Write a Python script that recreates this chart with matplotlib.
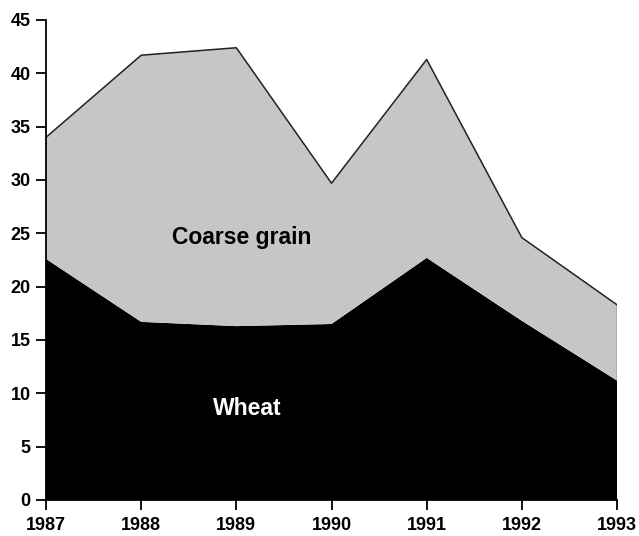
import matplotlib
matplotlib.use("Agg")
from matplotlib import pyplot as plt

plt.rcParams['font.family'] = ['Liberation Sans', 'DejaVu Sans']

years = [1987, 1988, 1989, 1990, 1991, 1992, 1993]
wheat = [22.6, 16.7, 16.3, 16.5, 22.7, 16.8, 11.2]
total = [34.0, 41.7, 42.4, 29.7, 41.3, 24.6, 18.3]
coarse = [t - w for t, w in zip(total, wheat)]

fig = plt.figure(figsize=(6.39, 5.36), dpi=100)
ax = fig.add_axes([46 / 639, 36 / 536, 571 / 639, 480 / 536])

ax.stackplot(years, wheat, coarse, colors=['black', '#c6c6c6'], linewidth=0)
ax.plot(years, total, color='#222222', lw=1.1)
ax.plot([years[-1], years[-1]], [wheat[-1], total[-1]], color='#444444', lw=1.0)

ax.text(1989.06, 24.6, "Coarse grain", fontsize=16.5, fontweight='bold',
        ha='center', va='center', color='black')
ax.text(1989.11, 8.6, "Wheat", fontsize=16.5, fontweight='bold',
        ha='center', va='center', color='white')

ax.set_xlim(1987, 1993)
ax.set_ylim(0, 45)
ax.set_xticks(years)
ax.set_yticks(range(0, 46, 5))
ax.spines['top'].set_visible(False)
ax.spines['right'].set_visible(False)
for s in ['left', 'bottom']:
    ax.spines[s].set_linewidth(1.3)
ax.tick_params(direction='out', length=7, width=1.3, labelsize=13)
ax.tick_params(axis='x', pad=5)
ax.tick_params(axis='y', pad=4)
for lab in ax.get_xticklabels() + ax.get_yticklabels():
    lab.set_fontweight('bold')

fig.savefig("out.png", dpi=100)
